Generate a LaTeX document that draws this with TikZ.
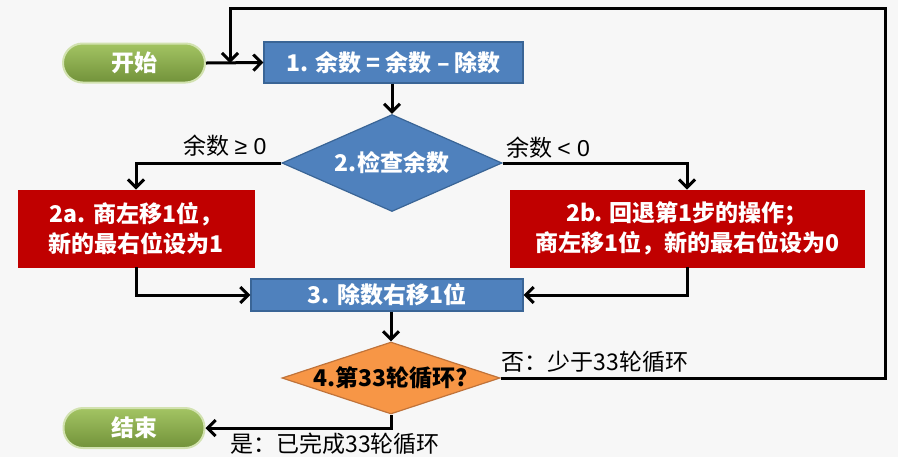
\documentclass[tikz,border=0pt]{standalone}
\usepackage{fontspec}
\setmainfont{Noto Sans CJK SC}
\newfontfamily\symfont{Liberation Sans}
\usetikzlibrary{shapes.geometric,arrows.meta}
\definecolor{bgGray}{HTML}{F7F7F7}
\definecolor{pillTop}{HTML}{A3C463}
\definecolor{pillBot}{HTML}{72923A}
\definecolor{pillEdge}{HTML}{D2E2B0}
\definecolor{stepBlue}{HTML}{4F81BD}
\definecolor{stepBlueEdge}{HTML}{3A6596}
\definecolor{stepRed}{HTML}{C00000}
\definecolor{testOrange}{HTML}{F79646}
\definecolor{testOrangeEdge}{HTML}{C0733A}
\newcommand{\figfont}{\fontsize{11.5}{15}\selectfont}
\begin{document}
\begin{tikzpicture}[x=0.5pt,y=-0.5pt,
    >={Straight Barb[length=4pt,width=8pt]},
    every node/.style={font=\figfont},
    pill/.style={rectangle, rounded corners=9.8pt, top color=pillTop, bottom color=pillBot,
      draw=pillEdge, line width=1pt, text=white, font=\figfont\bfseries,
      minimum width=71pt, minimum height=19.5pt, inner sep=0pt},
    bluebox/.style={rectangle, fill=stepBlue, draw=stepBlueEdge, line width=0.6pt,
      text=white, font=\figfont\bfseries, inner sep=0pt},
    redbox/.style={rectangle, fill=stepRed, draw=stepRed, text=white,
      font=\figfont\bfseries, align=center, inner sep=0pt,
      minimum height=38.5pt},
    testnode/.style={diamond, inner sep=0pt, line width=0.6pt, font=\figfont\bfseries},
    flow/.style={line width=1.5pt, ->}]
    \useasboundingbox[fill=bgGray] (0,0) rectangle (898,457);
    % start and first step
    \node[pill] (start) at (134,63) {开始};
    \node[bluebox, minimum width=129.5pt, minimum height=20.5pt] (sub) at (393.5,62.5)
      {1. 余数 = 余数 – 除数};
    \node[testnode, fill=stepBlue, draw=stepBlueEdge, text=white,
      minimum width=110pt, minimum height=48.5pt] (check) at (392,163)
      {\makebox[0pt]{2.检查余数}};
    % the two branches
    \node[redbox, minimum width=118pt] (shiftone) at (136,228.5)
      {2a. 商左移1位，\\新的最右位设为1};
    \node[redbox, minimum width=177pt] (restore) at (687,228.5)
      {2b. 回退第1步的操作；\\商左移1位，新的最右位设为0};
    \node[bluebox, minimum width=136pt, minimum height=16pt] (shiftdiv) at (387,295)
      {3. 除数右移1位};
    \node[testnode, fill=testOrange, draw=testOrangeEdge, text=black,
      minimum width=109pt, minimum height=36pt] (count) at (391,378)
      {\makebox[0pt]{4.第33轮循环?}};
    \node[pill, minimum width=70.5pt, minimum height=20pt] (stop) at (134,428) {结束};
    % labels
    \node (lblge) at (225,146) {余数 {\symfont ≥ 0}};
    \node (lbllt) at (548,148) {余数 {\symfont < 0}};
    \node (lblno) at (595,362) {否：少于33轮循环};
    \node (lblyes) at (335,444) {是：已完成33轮循环};
    % connectors
    \coordinate (join) at (230,63);
    \coordinate (corner) at (885,8);
    \draw[flow] (start.east) -- (sub.west);
    \draw[flow] (sub.south -| check.north) -- (check.north);
    \draw[flow] (check.west) -| (shiftone.north);
    \draw[flow] (check.east) -| (restore.north);
    \draw[flow] (shiftone.south) |- (shiftdiv.west);
    \draw[flow] (restore.south) |- (shiftdiv.east);
    \draw[flow] (shiftdiv.south -| count.north) -- (count.north);
    \draw[flow] (count.south) |- (stop.east);
    \draw[flow] (count.east) -| (corner) -| (join);
\end{tikzpicture}
\end{document}
